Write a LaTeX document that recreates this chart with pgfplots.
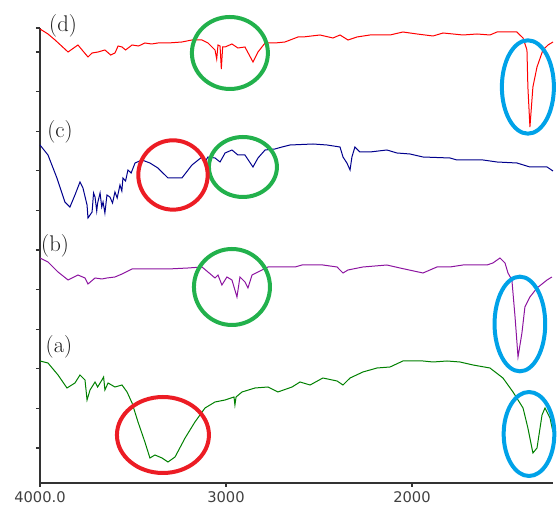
\documentclass[border=0pt]{standalone}
\usepackage{fontspec}
\usepackage{pgfplots}
\pgfplotsset{compat=1.18}
\newfontfamily\tickfont{DejaVu Sans}
\definecolor{lnred}{RGB}{255,0,0}
\definecolor{lnnavy}{RGB}{0,0,140}
\definecolor{lnpurple}{RGB}{140,20,160}
\definecolor{lngreen}{RGB}{0,128,0}
\definecolor{ringred}{RGB}{236,28,36}
\definecolor{ringgreen}{RGB}{34,177,76}
\definecolor{ringblue}{RGB}{0,162,232}

\begin{document}
\begin{tikzpicture}
\begin{axis}[
    scale only axis,
    width=384.75pt, height=341.25pt,
    xmin=1242, xmax=4000, x dir=reverse,
    ymin=0, ymax=455,
    axis lines*=left,
    axis line style={black!80, line width=1.2pt},
    tick style={black!80, line width=1pt},
    tick align=outside,
    major tick length=3pt,
    xtick={4000,3000,2000},
    xticklabels={4000.0,3000,2000},
    xticklabel style={font=\tickfont\fontsize{11}{11}\selectfont, text=black!75},
    ytick={35,74.6,114.2,153.8,193.4,233,272.6,312.2,351.8,391.4,431,455},
    yticklabels={},
    clip=false,
    every axis plot/.append style={line width=0.75pt},
]
% (d)
\addplot[lnred] coordinates {
(4000,454)(3957,449)(3919,443)(3849,431)(3796,438)(3760,430)(3742,426)(3720,430)(3688,431)(3651,433)(3620,428)(3597,430)
(3580,437)(3559,436)(3540,433)(3505,438)(3470,437)(3436,440)(3400,439)(3366,440)(3312,440)(3237,441)(3183,443)(3129,443)
(3097,440)(3059,433)(3050,424)(3043,438)(3032,437)(3025,414)(3018,436)(3005,436)(2968,439)
(2936,435)(2898,436)(2855,421)(2828,431)(2790,440)(2737,440)(2683,441)(2613,446)
(2586,446)(2495,448)(2425,445)(2387,448)(2344,443)(2296,446)(2226,448)(2118,448)
(2049,451)(1973,449)(1887,447)(1833,450)(1726,448)(1651,449)(1581,448)(1543,451)
(1436,451)(1420,448)(1403,445)(1382,433)(1377,396)(1366,356)(1350,396)(1328,416)
(1296,433)(1269,438)(1242,441)};
% (c)
\addplot[lnnavy] coordinates {
(4000,338)(3957,328)(3909,305)(3866,281)(3839,276)(3812,288)(3785,301)(3769,295)
(3747,278)(3742,265)(3720,271)(3712,290)(3704,286)(3695,272)(3690,280)(3677,290)(3668,276)(3661,281)(3651,270)
(3640,288)(3624,286)(3610,280)(3597,291)(3585,285)(3570,298)(3560,292)(3554,305)(3540,302)(3527,313)(3510,310)
(3489,320)(3452,323)(3409,320)(3366,315)(3312,305)(3237,305)(3183,318)(3129,326)
(3110,322)(3097,326)(3059,325)(3032,321)(3005,330)(2968,333)(2936,328)(2898,328)(2855,316)
(2828,325)(2790,333)(2737,334)(2699,336)(2656,338)(2532,339)(2457,338)(2387,336)
(2371,326)(2350,320)(2333,313)(2323,326)(2307,336)(2280,331)(2226,331)(2135,333)
(2081,330)(2011,329)(1941,326)(1796,325)(1758,323)(1618,323)(1543,321)(1436,320)
(1366,316)(1274,316)(1242,312)};
% (b)
\addplot[lnpurple] coordinates {
(4000,225)(3957,221)(3903,211)(3849,203)(3796,208)(3758,205)(3742,199)(3704,205)
(3667,204)(3640,205)(3597,206)(3559,209)(3505,214)(3436,214)(3312,214)(3204,215)
(3129,216)(3097,211)(3059,205)(3043,208)(3022,198)(2995,206)(2968,203)(2941,186)
(2925,206)(2898,201)(2882,195)(2860,208)(2828,211)(2774,216)(2699,216)(2629,216)
(2591,218)(2479,218)(2403,216)(2371,210)(2344,213)(2264,216)(2135,218)(2065,215)
(1941,210)(1866,216)(1796,216)(1726,218)(1597,218)(1565,220)(1527,225)(1500,220)
(1484,210)(1463,203)(1446,166)(1430,126)(1409,150)(1393,176)(1366,186)(1328,195)
(1274,203)(1248,206)};
% (a)
\addplot[lngreen] coordinates {
(4000,122)(3957,120)(3903,108)(3855,95)(3812,100)(3785,108)(3758,103)(3747,83)
(3731,93)(3704,101)(3690,96)(3667,103)(3658,106)(3651,93)(3634,100)(3597,96)(3559,98)(3532,91)
(3505,80)(3473,61)(3436,41)(3409,25)(3382,28)(3344,25)(3312,21)(3274,26)
(3220,45)(3167,61)(3113,75)(3059,81)(3005,83)(2957,86)(2952,78)(2946,86)
(2914,91)(2844,95)(2774,96)(2721,91)(2645,96)(2602,101)(2548,98)(2479,105)
(2403,102)(2371,98)(2333,105)(2264,111)(2188,115)(2118,116)(2049,122)(1941,122)
(1887,121)(1812,122)(1742,121)(1672,118)(1581,115)(1511,105)(1457,91)(1403,75)
(1377,55)(1350,30)(1328,35)(1301,68)(1285,75)(1258,65)(1242,51)};

\begin{scope}[line width=3pt]
\draw[ringgreen] (axis cs:2979,430) ellipse [x radius=28.5pt, y radius=27pt];
\draw[ringgreen] (axis cs:2909,316) ellipse [x radius=25.5pt, y radius=22.5pt];
\draw[ringgreen] (axis cs:2968,196) ellipse [x radius=28.5pt, y radius=28.5pt];
\draw[ringred] (axis cs:3285,308) ellipse [x radius=26pt, y radius=26pt];
\draw[ringred] (axis cs:3339,48) ellipse [x radius=34.5pt, y radius=28.5pt];
\draw[ringblue] (axis cs:1377,396) ellipse [x radius=19.5pt, y radius=35pt];
\draw[ringblue] (axis cs:1420,159) ellipse [x radius=19pt, y radius=35.5pt];
\draw[ringblue] (axis cs:1371,49) ellipse [x radius=19pt, y radius=31.5pt];
\end{scope}

\begin{scope}[font=\fontsize{17}{17}\selectfont, text=black!90]
\node at (axis cs:3876,457) {(d)};
\node at (axis cs:3892,351) {(c)};
\node at (axis cs:3919,237) {(b)};
\node at (axis cs:3898,136) {(a)};
\end{scope}

\coordinate (O) at (rel axis cs:0,0);
\coordinate (T) at (rel axis cs:1,1);
\end{axis}
\pgfresetboundingbox
\path ([xshift=-30pt,yshift=-19.5pt]O) rectangle ([xshift=3pt,yshift=21pt]T);
\end{tikzpicture}
\end{document}
